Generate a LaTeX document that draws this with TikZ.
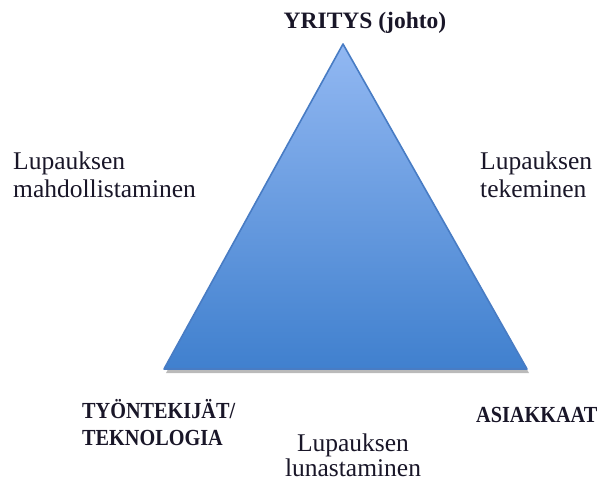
\documentclass[tikz,border=0pt]{standalone}
\usepackage{fontspec}
\setmainfont{Liberation Serif}
\newfontfamily\cornerfont[FakeStretch=0.88]{Liberation Serif}
\definecolor{TriTop}{RGB}{146,184,242}
\definecolor{TriBottom}{RGB}{64,128,206}
\definecolor{TriEdge}{RGB}{72,124,196}
\definecolor{LabelInk}{RGB}{25,22,40}
\usetikzlibrary{shadows, positioning}

\begin{document}
\begin{tikzpicture}[x=1pt, y=-1pt,
    cornerlabel/.style={font=\cornerfont\fontsize{23}{27}\selectfont\bfseries, text=LabelInk,
                        align=left, inner sep=0pt},
    sidelabel/.style={font=\fontsize{25.5}{28}\selectfont, text=LabelInk,
                      align=left, inner sep=0pt}]
  \useasboundingbox (0,0) rectangle (603,483);

  % corners of the triangle
  \coordinate (apex) at (343,44);
  \coordinate (baseL) at (164,369);
  \coordinate (baseR) at (527,369);

  % the triangle with its shadow
  \path[drop shadow={shadow xshift=2pt, shadow yshift=-4pt, opacity=0.45, fill=black!60}]
    (apex) -- (baseL) -- (baseR) -- cycle;
  \shade[top color=TriTop, bottom color=TriBottom]
    (apex) -- (baseL) -- (baseR) -- cycle;
  \draw[TriEdge, line width=1.6pt, line join=round]
    (apex) -- (baseL) -- (baseR) -- cycle;

  % corner labels
  \node[cornerlabel, anchor=base, font=\fontsize{23.5}{27}\selectfont\bfseries]
    (yritys) at (365,28) {YRITYS (johto)};
  \node[cornerlabel, anchor=base west] (tyontekijat) at (82,445) {TYÖNTEKIJÄT/\\TEKNOLOGIA};
  \node[cornerlabel, anchor=base west] (asiakkaat) at (476,422) {ASIAKKAAT};

  % side labels
  \node[sidelabel, anchor=base west] (mahd) at (13,197) {Lupauksen\\mahdollistaminen};
  \node[sidelabel, anchor=base west] (tek) at (480,197) {Lupauksen\\tekeminen};
  \node[sidelabel, align=center, anchor=base, font=\fontsize{25.5}{23}\selectfont]
    (lunast) at (353,476) {Lupauksen\\lunastaminen};
\end{tikzpicture}
\end{document}
